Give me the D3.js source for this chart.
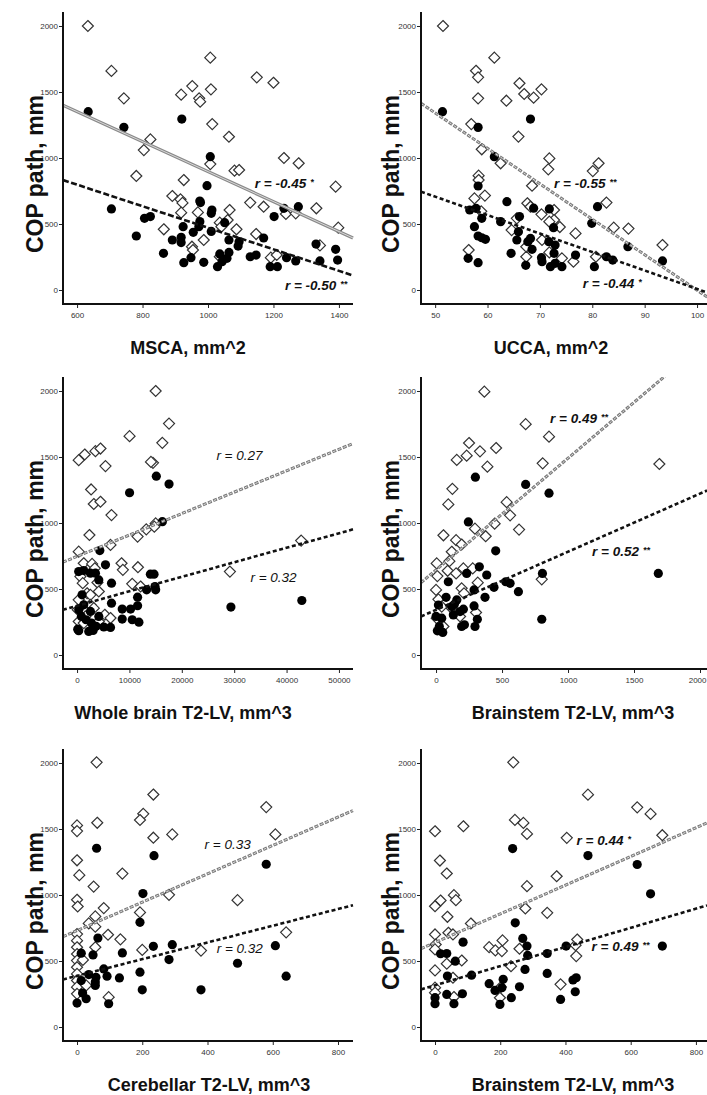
<!DOCTYPE html>
<html>
<head>
<meta charset="utf-8">
<script src="https://cdn.jsdelivr.net/npm/d3@7"></script>
<style>
body { margin: 0; background: #fff; }
svg { display: block; }
</style>
</head>
<body>
<div id="vis"></div>
<script>
const width = 707;
const height = 1095;

// ---- data: [x, COP path] ----
const yTicks = [0, 500, 1000, 1500, 2000];

const mscaTicks = [600, 800, 1000, 1200, 1400];
const mscaOpen = [[633,2000],[705,1660],[743,1452],[804,1060],[824,1141],[781,864],[865,460],[891,712],[918,1480],[952,1545],[973,1452],[976,1427],[1007,1760],[1009,1520],[1013,1257],[1007,954],[926,833],[916,687],[922,660],[918,586],[969,588],[987,379],[951,328],[954,303],[1036,510],[1041,480],[1060,530],[1066,606],[1087,460],[1064,1161],[1081,904],[1095,909],[1129,662],[1170,631],[1147,424],[1036,252],[1149,1611],[1200,1570],[1192,245],[1210,265],[1232,1000],[1238,576],[1268,581],[1277,960],[1331,619],[1342,338],[1390,783],[1398,472]];
const mscaFilled = [[634,1351],[705,614],[743,1232],[781,409],[806,543],[824,556],[864,278],[891,379],[918,359],[918,399],[924,480],[926,207],[920,1295],[955,437],[948,245],[972,480],[975,518],[977,662],[975,674],[997,790],[987,210],[1007,1010],[1010,581],[1012,606],[1010,444],[1029,177],[1036,273],[1043,215],[1058,240],[1064,285],[1064,379],[1051,510],[1092,333],[1095,366],[1129,252],[1147,265],[1170,394],[1190,177],[1212,177],[1202,556],[1232,619],[1240,245],[1268,220],[1276,631],[1330,348],[1342,220],[1390,308],[1396,227]];
const mscaFitOpen = [[557,1400],[1443,394]];
const mscaFitFilled = [[557,833],[1443,110]];

const uccaTicks = [50, 60, 70, 80, 90, 100];
const uccaOpen = [[51.5,2000],[57.8,1661],[58.2,1611],[58.2,1452],[56.9,1257],[58.9,1066],[58.3,866],[58.3,833],[59.5,715],[57.5,694],[58.8,596],[56.4,303],[61.3,1760],[62.5,960],[63.6,1434],[66.1,1566],[65.9,1162],[65.6,543],[64.6,454],[67.0,1485],[68.8,1457],[70.3,1520],[68.5,790],[67.6,657],[68.2,631],[70.3,573],[71.8,997],[71.6,914],[72.7,606],[72.7,530],[71.8,518],[73.8,477],[76.8,429],[70.4,379],[67.4,328],[67.4,252],[71.8,285],[74.2,240],[76.4,215],[80.7,252],[80.1,901],[81.2,960],[82.7,662],[84.1,472],[86.9,465],[93.4,341]];
const uccaFilled = [[51.4,1351],[58.2,1232],[58.2,788],[56.6,606],[57.8,619],[58.9,543],[57.5,480],[58.2,409],[58.9,396],[59.6,384],[56.3,240],[58.2,207],[61.3,1010],[62.5,518],[63.7,669],[64.5,278],[65.6,379],[65.9,442],[66.1,556],[67.3,187],[67.7,366],[68.2,391],[68.5,308],[68.8,620],[68.2,1295],[70.3,245],[70.4,215],[71.8,614],[71.7,366],[72.0,177],[72.6,472],[72.7,278],[72.9,341],[72.9,202],[74.2,177],[76.8,265],[80.4,177],[79.9,505],[81.0,631],[82.7,252],[83.9,227],[86.8,328],[93.4,220]];
const uccaFitOpen = [[47.3,1414],[102,-55]];
const uccaFitFilled = [[47.3,745],[102,-20]];

const wholeTicks = [0, 10000, 20000, 30000, 40000, 50000];
const wholeOpen = [[15006,2000],[17561,1753],[16284,1607],[10026,1658],[14496,1456],[14112,1463],[319,1476],[1469,1519],[3512,1544],[4470,1564],[5428,1431],[2682,1254],[3193,1144],[4470,1161],[6577,1060],[2363,909],[6386,834],[13218,952],[15006,997],[11558,897],[14750,972],[319,783],[1277,695],[2874,690],[3384,657],[639,594],[1086,544],[3895,549],[1916,468],[4151,481],[2554,456],[319,418],[128,343],[2554,380],[3193,355],[319,254],[1597,292],[4151,254],[5300,305],[6386,280],[8493,695],[8748,645],[10536,539],[11622,665],[12133,519],[29183,632],[42784,867],[1277,242]];
const wholeFilled = [[15134,1355],[17561,1295],[10026,1229],[16284,1010],[4342,791],[319,632],[1277,640],[2554,620],[5428,683],[3512,620],[4151,569],[6577,544],[14000,612],[14700,612],[13282,494],[15006,494],[14879,519],[11558,438],[11558,373],[10217,348],[6577,393],[8621,348],[8621,272],[10536,267],[11813,249],[1277,380],[319,343],[830,292],[1724,267],[2554,330],[2746,242],[319,184],[2235,179],[3065,186],[3640,217],[4151,292],[5109,212],[6386,209],[29374,363],[42912,413],[958,456],[128,196]];
const wholeFitOpen = [[-2700,703],[52700,1602]];
const wholeFitFilled = [[-2700,343],[52700,952]];

const stemTicks = [0, 500, 1000, 1500, 2000];
const stemOpen = [[366,1995],[679,1749],[856,1654],[250,1606],[232,1510],[333,1543],[455,1568],[157,1478],[389,1427],[808,1452],[1692,1447],[124,1259],[93,1141],[535,1158],[561,1058],[629,950],[444,995],[295,957],[376,900],[56,907],[152,870],[194,837],[119,782],[101,711],[5,694],[10,598],[88,638],[152,618],[207,656],[278,656],[316,548],[194,505],[0,493],[18,422],[43,367],[119,354],[182,292],[303,322],[5,279],[801,573],[212,467],[56,216]];
const stemFilled = [[298,1347],[679,1292],[856,1226],[245,1008],[452,789],[93,555],[232,618],[328,668],[384,606],[76,437],[18,379],[0,292],[10,183],[51,171],[43,279],[119,367],[139,384],[157,417],[182,329],[207,347],[131,304],[194,216],[215,229],[288,372],[313,271],[295,216],[288,493],[371,437],[439,513],[528,555],[561,543],[624,480],[806,618],[801,271],[1684,618],[25,216]];
const stemFitOpen = [[-114,548],[1735,2113]];
const stemFitFilled = [[-114,292],[2053,1246]];

const cerebTicks = [0, 200, 400, 600, 800];
const cerebOpen = [[60,2005],[234,1761],[203,1615],[193,1568],[62,1547],[0,1527],[0,1484],[580,1666],[608,1459],[292,1459],[234,1434],[0,1263],[7,1150],[139,1162],[51,1064],[0,964],[2,913],[282,1001],[82,901],[193,868],[56,838],[36,785],[492,961],[95,699],[133,664],[56,760],[0,704],[0,654],[0,604],[0,553],[0,503],[0,453],[0,402],[0,352],[0,302],[0,251],[18,508],[28,315],[200,584],[380,579],[641,717],[97,226],[56,604]];
const cerebFilled = [[60,1354],[236,1298],[202,1011],[580,1233],[193,793],[64,674],[49,546],[13,559],[139,561],[234,611],[292,624],[282,511],[193,415],[82,440],[92,385],[130,372],[58,377],[36,397],[56,315],[56,340],[17,257],[28,214],[0,181],[97,176],[200,282],[380,282],[492,483],[608,616],[641,385],[13,352]];
const cerebFitOpen = [[-43,684],[846,1640]];
const cerebFitFilled = [[-43,360],[846,923]];

const stem2Ticks = [0, 200, 400, 600, 800];
const stem2Open = [[240,2005],[469,1760],[620,1664],[661,1614],[245,1569],[271,1546],[282,1463],[0,1483],[87,1521],[404,1433],[697,1453],[15,1261],[36,1163],[373,1142],[282,1067],[58,999],[64,961],[17,958],[0,915],[277,898],[344,865],[38,835],[110,784],[41,714],[55,701],[0,701],[2,625],[0,588],[166,605],[185,580],[205,575],[207,656],[259,593],[431,620],[436,663],[433,537],[82,504],[36,479],[0,429],[233,461],[55,373],[0,298],[0,260],[385,323],[202,303],[199,222],[58,227]];
const stem2Filled = [[238,1352],[469,1299],[620,1231],[661,1009],[246,789],[269,671],[282,613],[284,542],[276,436],[697,613],[402,613],[344,557],[344,406],[423,356],[433,373],[430,267],[385,209],[259,305],[234,222],[209,361],[205,298],[184,277],[166,328],[199,171],[112,393],[86,643],[36,557],[17,555],[62,499],[38,386],[36,247],[84,252],[58,177],[0,177],[0,222]];
const stem2FitOpen = [[-43,593],[834,1546]];
const stem2FitFilled = [[-43,285],[834,921]];

// correlation labels: [text, stars, x, y] (x, y in data units)
const rOpen = [["r = -0.45","*",1143,773],["r = -0.55","**",72.7,773],["r = 0.27","",26600,1477],["r = 0.49","**",864,1758],["r = 0.33","",391,1351],["r = 0.44","*",434,1381]];
const rFilled = [["r = -0.50","**",1235,0],["r = -0.44","*",78.2,15],["r = 0.32","",33100,553],["r = 0.52","**",1182,750],["r = 0.32","",428,558],["r = 0.49","**",480,574]];

// ---- layout ----
const cols = [{left: 63, right: 353, yTitleX: 35}, {left: 421, right: 707, yTitleX: 391}];
const rowsY = [304, 669, 1041];
const plotH = 292;
const yDomain = [-106, 2106];

const panels = [
	{title: "MSCA, mm^2", titleX: 188, col: 0, row: 0, xDomain: [557, 1443], ticks: mscaTicks, open: mscaOpen, filled: mscaFilled, fitOpen: mscaFitOpen, fitFilled: mscaFitFilled, bold: true, solidGrey: true},
	{title: "UCCA, mm^2", titleX: 551, col: 1, row: 0, xDomain: [47.3, 101.9], ticks: uccaTicks, open: uccaOpen, filled: uccaFilled, fitOpen: uccaFitOpen, fitFilled: uccaFitFilled, bold: true},
	{title: "Whole brain T2-LV, mm^3", titleX: 183, col: 0, row: 1, xDomain: [-2682, 52682], ticks: wholeTicks, open: wholeOpen, filled: wholeFilled, fitOpen: wholeFitOpen, fitFilled: wholeFitFilled, bold: false},
	{title: "Brainstem T2-LV, mm^3", titleX: 573, col: 1, row: 1, xDomain: [-114, 2053], ticks: stemTicks, open: stemOpen, filled: stemFilled, fitOpen: stemFitOpen, fitFilled: stemFitFilled, bold: true},
	{title: "Cerebellar T2-LV, mm^3", titleX: 209, col: 0, row: 2, xDomain: [-43, 846], ticks: cerebTicks, open: cerebOpen, filled: cerebFilled, fitOpen: cerebFitOpen, fitFilled: cerebFitFilled, bold: false},
	{title: "Brainstem T2-LV, mm^3", titleX: 573, col: 1, row: 2, xDomain: [-43, 834], ticks: stem2Ticks, open: stem2Open, filled: stem2Filled, fitOpen: stem2FitOpen, fitFilled: stem2FitFilled, bold: true}
];

const font = "'Liberation Sans', Arial, sans-serif";

const svg = d3.select("#vis")
	.append("svg")
		.attr("width", width)
		.attr("height", height)
		.style("font-family", font);

const diamond = "M0,-5.5L5.5,0L0,5.5L-5.5,0Z";

panels.forEach((p, i) => {
	const c = cols[p.col];
	const axisY = rowsY[p.row];
	const x = d3.scaleLinear().domain(p.xDomain).range([c.left, c.right]);
	const y = d3.scaleLinear().domain(yDomain).range([axisY, axisY - plotH]);

	svg.append("clipPath")
		.attr("id", "clip" + i)
		.append("rect")
			.attr("x", c.left)
			.attr("y", axisY - plotH)
			.attr("width", c.right - c.left + 5)
			.attr("height", plotH);

	const g = svg.append("g").attr("clip-path", `url(#clip${i})`);

	g.selectAll("path.open")
		.data(p.open)
		.enter()
		.append("path")
			.attr("class", "open")
			.attr("d", diamond)
			.attr("transform", d => `translate(${x(d[0])},${y(d[1])})`)
			.attr("fill", "#fff")
			.attr("stroke", "#333")
			.attr("stroke-width", 1.2);

	g.selectAll("circle")
		.data(p.filled)
		.enter()
		.append("circle")
			.attr("cx", d => x(d[0]))
			.attr("cy", d => y(d[1]))
			.attr("r", 4.6)
			.attr("fill", "#000");

	const line = d3.line().x(d => x(d[0])).y(d => y(d[1]));

	// grey fit line (open diamonds)
	if (p.solidGrey) {
		g.append("path").attr("d", line(p.fitOpen))
			.attr("stroke", "#8a8a8a").attr("stroke-width", 3.2).attr("fill", "none");
		g.append("path").attr("d", line(p.fitOpen))
			.attr("stroke", "#d8d8d8").attr("stroke-width", 1).attr("fill", "none");
	} else {
		g.append("path").attr("d", line(p.fitOpen))
			.attr("stroke", "#7a7a7a").attr("stroke-width", 3).attr("fill", "none")
			.attr("stroke-dasharray", "4,1.6");
		g.append("path").attr("d", line(p.fitOpen))
			.attr("stroke", "#e2e2e2").attr("stroke-width", 1).attr("fill", "none")
			.attr("stroke-dasharray", "2.4,3.2")
			.attr("stroke-dashoffset", -0.8);
	}

	// black fit line (filled circles)
	g.append("path").attr("d", line(p.fitFilled))
		.attr("stroke", "#111").attr("stroke-width", 2.6).attr("fill", "none")
		.attr("stroke-dasharray", p.solidGrey ? "6,2.5" : "4,2.6");

	// axes
	const yAxis = svg.append("g")
		.attr("transform", `translate(${c.left},0)`)
		.call(d3.axisLeft(y).tickValues(yTicks).tickSize(4).tickPadding(1).tickFormat(d3.format("d")));
	const xAxis = svg.append("g")
		.attr("transform", `translate(0,${axisY})`)
		.call(d3.axisBottom(x).tickValues(p.ticks).tickSize(4).tickPadding(4).tickFormat(d3.format("d")));
	[yAxis, xAxis].forEach(a => {
		a.select(".domain").remove();
		a.selectAll("text").attr("font-size", 8).attr("fill", "#333").style("font-family", font);
		a.selectAll("line").attr("stroke", "#222");
	});
	// keep the last tick label inside the picture
	xAxis.selectAll(".tick").each(function(d) {
		const t = d3.select(this).select("text");
		const w = t.node().getComputedTextLength();
		const over = x(d) + w / 2 - (width - 1);
		if (over > 0) t.attr("dx", -over);
	});

	svg.append("line")
		.attr("x1", c.left).attr("x2", c.left)
		.attr("y1", axisY - plotH).attr("y2", axisY + 1)
		.attr("stroke", "#111").attr("stroke-width", 2);
	svg.append("line")
		.attr("x1", c.left - 1).attr("x2", c.right)
		.attr("y1", axisY).attr("y2", axisY)
		.attr("stroke", "#111").attr("stroke-width", 2);

	// titles
	svg.append("text")
		.attr("x", p.titleX)
		.attr("y", axisY + 50)
		.attr("text-anchor", "middle")
		.attr("font-size", 18)
		.attr("font-weight", "bold")
		.attr("fill", "#111")
		.text(p.title);

	svg.append("text")
		.attr("transform", `translate(${c.yTitleX + 8},${axisY - 130}) rotate(-90)`)
		.attr("text-anchor", "middle")
		.attr("font-size", 23)
		.attr("font-weight", "bold")
		.attr("fill", "#111")
		.text("COP path, mm");

	// r labels
	[rOpen[i], rFilled[i]].forEach(r => {
		const t = svg.append("text")
			.attr("x", x(r[2]))
			.attr("y", y(r[3]))
			.attr("font-size", 13.5)
			.attr("font-style", "italic")
			.attr("font-weight", p.bold ? "bold" : "normal")
			.attr("fill", "#111");
		t.append("tspan").text(r[0]);
		if (r[1]) t.append("tspan").attr("dx", 4).attr("dy", -3).attr("font-size", 9).text(r[1]);
	});
});
</script>
</body>
</html>
